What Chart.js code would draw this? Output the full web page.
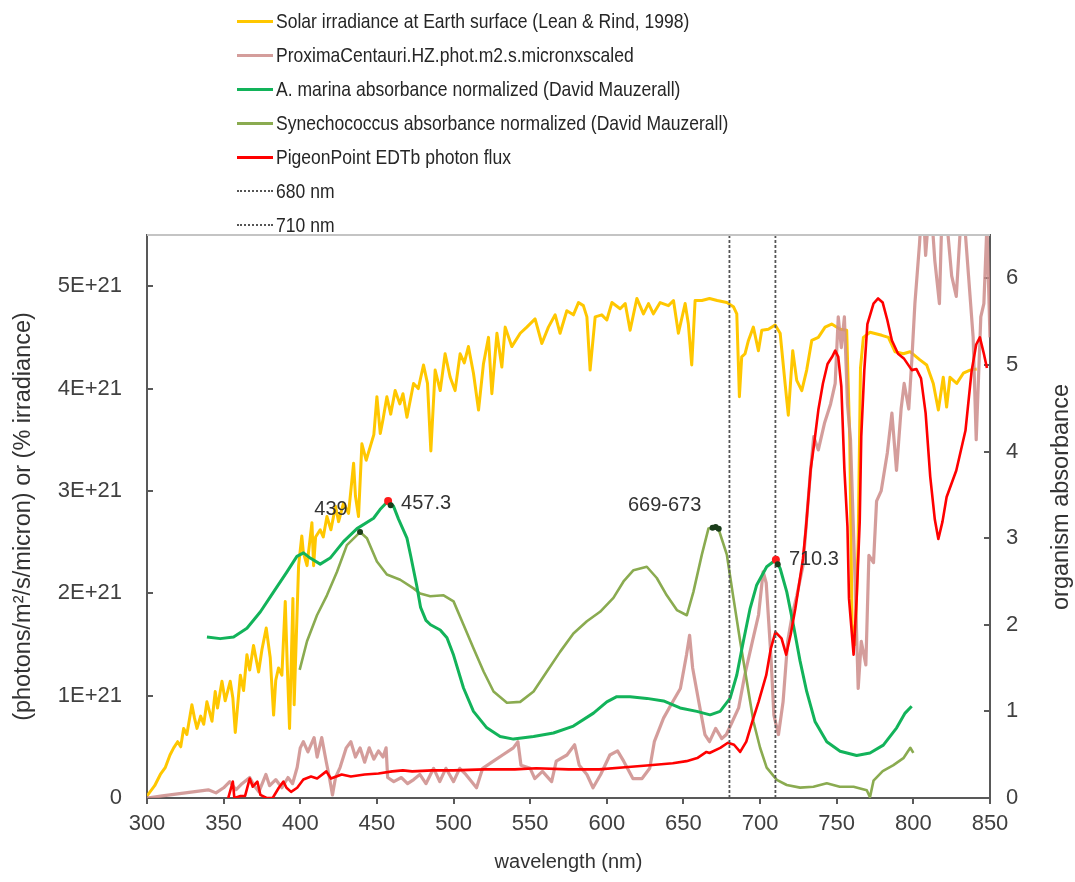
<!DOCTYPE html>
<html>
<head>
<meta charset="utf-8">
<title>Photon flux and absorbance spectra</title>
<script src="https://cdn.jsdelivr.net/npm/chart.js@4.4.0/dist/chart.umd.min.js"></script>
<style>
    body { margin: 0; background: #fff; font-family: "Liberation Sans", Arial, sans-serif; }
    #wrap { position: relative; width: 1075px; height: 882px; }
    #legend { position: absolute; left: 237px; top: 4px; }
    .legend-item { height: 34px; display: flex; align-items: center; color: #262626; white-space: nowrap; }
    .legend-line { width: 36px; height: 0; margin-right: 3px; }
    .legend-text { display: inline-block; font-size: 21px; transform: scaleX(0.835); transform-origin: left center; }
</style>
</head>
<body>
<div id="wrap">
    <canvas id="spectraChart"></canvas>
    <div id="legend"></div>
</div>
<script>
// Left axis values are in units of 1E+21 photons/m2/s/micron

// Solar irradiance at Earth surface
const solarWl = [
    300, 305, 308.7, 312, 315, 317.4, 320, 322, 323.9, 326,
    329.3, 331, 332.6, 335, 337, 339.1, 342.4, 344.5, 346, 348.9,
    351, 354.3, 356, 357.6, 360.9, 363, 365.2, 367, 369.5, 372.8,
    375, 377.8, 380.4, 382.6, 384, 385.8, 388, 390.2, 391.5, 393,
    395.2, 396, 398.9, 401, 402, 404.4, 407.6, 408.7, 410, 413,
    415, 417.4, 420, 423, 425, 428.2, 431.5, 434.8, 436, 438,
    440.2, 443, 445.6, 448, 450, 452.2, 454, 456.5, 459, 461.9,
    465, 467, 469.6, 473.9, 477, 480.4, 483, 485.2, 488, 491.3,
    494.5, 497.8, 501, 504.3, 507, 509.7, 513, 516.3, 519.5, 522.8,
    525, 528.3, 531.5, 533.7, 538, 543.5, 547.8, 553.2, 557.6, 561.9,
    566.3, 569.5, 573.9, 578.2, 581.5, 584.7, 587, 589.1, 592.4, 596.7,
    600, 603.3, 608.7, 612, 615.2, 619.6, 623.9, 627.2, 630.4, 634.8,
    640.2, 643.5, 646.7, 651.1, 653.2, 655.4, 657.6, 662, 667, 672,
    678.3, 682.6, 684.8, 686.5, 688, 690.2, 692.4, 695.6, 698.9, 701.1,
    705.4, 709.8, 713.1, 716.3, 718.4, 721.3, 723.9, 727.2, 730.4, 733.7,
    738, 742.4, 746.7, 752.2, 756.5, 758.5, 760, 762, 764, 765.5,
    767.4, 771.7, 779.4, 783.7, 788, 793.5, 797.8, 804.3, 808.7, 813,
    816.3, 819.5, 821.7, 823.9, 828.3, 832.6, 837, 841.3
];
const solarFlux = [
    0.02, 0.12, 0.23, 0.30, 0.42, 0.49, 0.55, 0.50, 0.68, 0.62,
    0.91, 0.78, 0.68, 0.80, 0.72, 0.94, 0.75, 1.04, 0.88, 1.14,
    0.95, 1.14, 0.98, 0.64, 1.20, 1.05, 1.40, 1.25, 1.49, 1.23,
    1.45, 1.66, 1.37, 0.81, 1.15, 1.27, 1.20, 1.92, 1.30, 0.68,
    1.95, 0.91, 2.27, 2.56, 2.40, 2.27, 2.69, 2.27, 2.55, 2.62,
    2.55, 2.75, 2.62, 2.85, 2.70, 2.88, 2.78, 3.27, 2.95, 2.75,
    3.46, 3.30, 3.43, 3.55, 3.92, 3.56, 3.70, 3.92, 3.75, 3.98,
    3.85, 3.95, 3.72, 4.05, 4.00, 4.23, 4.05, 3.39, 4.18, 3.98,
    4.34, 4.11, 3.98, 4.34, 4.25, 4.41, 4.15, 3.79, 4.24, 4.50,
    3.95, 4.54, 4.21, 4.60, 4.41, 4.54, 4.60, 4.68, 4.44, 4.60,
    4.72, 4.54, 4.76, 4.72, 4.84, 4.81, 4.70, 4.18, 4.70, 4.72,
    4.67, 4.84, 4.78, 4.83, 4.57, 4.88, 4.73, 4.83, 4.73, 4.84,
    4.81, 4.86, 4.54, 4.83, 4.63, 4.23, 4.86, 4.86, 4.88, 4.86,
    4.84, 4.80, 4.73, 3.92, 4.31, 4.34, 4.47, 4.60, 4.37, 4.57,
    4.58, 4.62, 4.54, 4.05, 3.74, 4.37, 4.08, 3.98, 4.18, 4.47,
    4.50, 4.60, 4.63, 4.58, 4.57, 3.50, 1.70, 1.50, 2.50, 4.20,
    4.50, 4.55, 4.52, 4.50, 4.36, 4.34, 4.36, 4.28, 4.23, 4.05,
    3.79, 4.11, 3.82, 4.11, 4.05, 4.15, 4.18, 4.19
];

// Proxima Centauri HZ photon flux (scaled)
const proxWl = [
    300, 310, 320, 330, 340, 345, 350, 354, 358, 362,
    367, 370, 373, 377.6, 380, 384, 388, 392, 395, 398,
    400, 402, 405, 409, 411, 414, 417, 419, 421, 423,
    426, 430, 433, 436, 439, 442, 445, 448, 451, 454,
    456, 457, 461, 466, 470, 474, 478, 482, 487, 491,
    495, 500, 504, 508, 515, 519, 526, 532, 539, 542,
    544, 550, 553, 558, 564, 567, 574, 579, 582, 587,
    591, 596, 602, 607, 611, 617, 623, 628, 631, 637,
    643, 648, 652, 654, 656, 660, 664, 667, 671, 675,
    678, 682, 686, 690, 695, 699, 702, 704, 707, 709,
    712, 715, 718, 721, 724, 728, 730, 733, 735, 738,
    742, 746, 749, 751, 753, 755, 757, 759, 762, 764,
    766, 769, 771, 774, 776, 779, 783, 786, 789, 792,
    794, 797, 799, 801, 804, 806, 808, 811, 814, 817,
    819, 822, 825, 828, 832, 836, 839, 841, 844, 846,
    848, 850
];
const proxFlux = [
    0.00, 0.02, 0.04, 0.06, 0.08, 0.05, 0.10, 0.16, 0.08, 0.14,
    0.20, 0.12, 0.06, 0.23, 0.12, 0.18, 0.10, 0.20, 0.14, 0.30,
    0.49, 0.55, 0.45, 0.59, 0.40, 0.59, 0.35, 0.20, 0.03, 0.20,
    0.30, 0.49, 0.55, 0.40, 0.49, 0.35, 0.49, 0.38, 0.46, 0.40,
    0.49, 0.20, 0.16, 0.20, 0.14, 0.18, 0.23, 0.14, 0.29, 0.16,
    0.29, 0.16, 0.29, 0.23, 0.10, 0.29, 0.36, 0.42, 0.49, 0.55,
    0.32, 0.29, 0.19, 0.26, 0.16, 0.36, 0.42, 0.52, 0.32, 0.23,
    0.10, 0.23, 0.42, 0.46, 0.36, 0.19, 0.19, 0.29, 0.55, 0.78,
    0.94, 1.07, 1.40, 1.59, 1.27, 0.94, 0.62, 0.55, 0.68, 0.58,
    0.62, 0.75, 0.88, 1.20, 1.53, 1.79, 2.21, 2.10, 1.40, 0.81,
    0.62, 0.94, 1.53, 1.79, 1.98, 2.27, 2.65, 3.21, 3.53, 3.40,
    3.66, 3.85, 4.05, 4.70, 4.40, 4.70, 3.85, 3.50, 2.11, 1.07,
    1.53, 1.30, 2.37, 2.30, 2.90, 3.00, 3.37, 3.76, 3.20, 3.80,
    4.05, 3.80, 4.28, 4.83, 5.41, 5.90, 5.30, 5.90, 5.25, 4.83,
    5.90, 5.60, 5.10, 4.90, 5.90, 5.10, 4.50, 3.50, 4.70, 4.83,
    5.60, 4.50
];

// PigeonPoint EDTb photon flux
const pigeonWl = [
    353, 356, 357, 361, 364, 367, 369, 372, 374, 378,
    382, 386, 389, 391, 394, 398, 402, 407, 411, 417,
    420, 427, 433, 442, 451, 460, 467, 473, 486, 500,
    520, 540, 554, 575, 595, 612, 628, 643, 652, 659,
    665, 667, 674, 679, 683, 687, 691, 695, 699, 704,
    707, 710, 714, 717, 720, 723, 728, 730, 733, 735,
    738, 741, 744, 747, 749, 751, 753, 755, 757, 758,
    761, 763, 765, 766, 768, 770, 774, 777, 780, 783,
    786, 790, 794, 799, 802, 805, 808, 811, 814, 816.3,
    819, 821.7, 828, 834, 838, 841, 843.4, 846, 848
];
const pigeonFlux = [
    0.00, 0.16, 0.00, 0.02, 0.02, 0.19, 0.11, 0.16, 0.03, 0.00,
    0.00, 0.10, 0.16, 0.10, 0.06, 0.10, 0.18, 0.21, 0.19, 0.26,
    0.19, 0.23, 0.21, 0.23, 0.24, 0.26, 0.27, 0.26, 0.27, 0.27,
    0.28, 0.28, 0.29, 0.28, 0.28, 0.30, 0.32, 0.34, 0.36, 0.39,
    0.45, 0.44, 0.49, 0.54, 0.52, 0.45, 0.55, 0.75, 0.94, 1.20,
    1.46, 1.62, 1.56, 1.40, 1.60, 1.85, 2.34, 2.65, 3.21, 3.43,
    3.79, 4.05, 4.24, 4.31, 4.37, 4.31, 4.02, 3.21, 2.65, 1.95,
    1.40, 1.95, 2.70, 3.53, 4.18, 4.63, 4.83, 4.88, 4.84, 4.67,
    4.47, 4.34, 4.29, 4.18, 4.19, 4.10, 3.76, 3.14, 2.72, 2.53,
    2.70, 2.94, 3.20, 3.59, 4.17, 4.43, 4.50, 4.34, 4.20
];

// A. marina absorbance (right axis)
const marinaWl = [
    339.1, 347.8, 356.5, 365.2, 374, 382.6, 391.3, 397.8, 402.1, 406.5,
    413, 419.5, 428.2, 437, 447.8, 452, 457.3, 460.8, 464.1, 469.6,
    472, 476, 478.5, 482, 485, 491.3, 495.7, 500, 506.5, 513,
    521.7, 530.4, 539.1, 552.2, 565.2, 578.2, 591.3, 600, 606.5, 615.2,
    626.1, 637, 647.8, 658.7, 667.4, 673.9, 680.4, 684.8, 689.1, 693.5,
    697.8, 704.3, 710.3, 713.1, 717.4, 721.7, 726.1, 730.4, 735.9, 743.5,
    752.2, 763, 771.7, 780.4, 789.1, 794.6, 798.9
];
const marinaAbs = [
    1.86, 1.84, 1.86, 1.96, 2.15, 2.38, 2.61, 2.79, 2.83, 2.77,
    2.70, 2.77, 2.96, 3.11, 3.23, 3.33, 3.43, 3.37, 3.22, 3.00,
    2.80, 2.45, 2.20, 2.05, 2.00, 1.94, 1.85, 1.65, 1.27, 1.00,
    0.81, 0.71, 0.68, 0.71, 0.75, 0.83, 0.98, 1.11, 1.17, 1.17,
    1.15, 1.12, 1.04, 1.00, 0.96, 1.00, 1.15, 1.42, 1.81, 2.19,
    2.46, 2.67, 2.75, 2.65, 2.38, 2.00, 1.58, 1.23, 0.88, 0.65,
    0.54, 0.49, 0.52, 0.61, 0.81, 0.98, 1.06
];

// Synechococcus absorbance (right axis)
const synWl = [
    399.6, 404.4, 410.9, 417.4, 423.9, 430.4, 439, 443.5, 450, 456.5,
    465.2, 473.9, 478.2, 484.8, 493.5, 500, 506.5, 513, 519.6, 526.1,
    534.8, 543.5, 552.2, 560.9, 569.6, 578.2, 587, 595.6, 604.3, 610.9,
    617.4, 626.1, 632.6, 639.1, 645.7, 652.2, 656.5, 662, 666.3, 669,
    673, 678.3, 682.6, 687, 691.3, 695.7, 700, 704.3, 710.9, 717.4,
    726.1, 734.8, 743.5, 752, 761, 769.6, 771.7, 774, 780, 787,
    793.5, 798, 800
];
const synAbs = [
    1.48, 1.81, 2.11, 2.34, 2.61, 2.92, 3.07, 3.00, 2.73, 2.58,
    2.52, 2.42, 2.36, 2.33, 2.34, 2.27, 2.00, 1.73, 1.46, 1.23,
    1.10, 1.11, 1.23, 1.46, 1.69, 1.90, 2.04, 2.15, 2.31, 2.50,
    2.63, 2.67, 2.54, 2.34, 2.17, 2.11, 2.38, 2.81, 3.11, 3.12,
    3.10, 2.81, 2.31, 1.81, 1.35, 0.88, 0.58, 0.35, 0.21, 0.15,
    0.12, 0.13, 0.17, 0.13, 0.13, 0.09, 0.01, 0.20, 0.31, 0.38,
    0.46, 0.58, 0.52
];

// Marked absorbance peaks
const peakRedWl = [457.3, 710.3];
const peakRedAbs = [3.43, 2.75];
const peakDarkWl = [439, 459, 669, 671, 673, 711.5];
const peakDarkAbs = [3.07, 3.38, 3.12, 3.13, 3.11, 2.70];
const peakLabels = ['439', '457.3', '669-673', '710.3'];
const peakLabelWl = [439, 457.3, 671, 710.3];
const peakLabelAbs = [3.07, 3.43, 3.12, 2.75];

// Reference wavelengths (dashed lines)
const refLinesNm = [680, 710];

const seriesNames = [
    'Solar irradiance at Earth surface (Lean & Rind, 1998)',
    'ProximaCentauri.HZ.phot.m2.s.micronxscaled',
    'A. marina absorbance normalized (David Mauzerall)',
    'Synechococcus absorbance normalized (David Mauzerall)',
    'PigeonPoint EDTb photon flux'
];

// Axis ticks
const xTicks = { min: 300, max: 850, step: 50 };
const fluxTicks = { min: 0, max: 5.5, step: 1 };
const absTicks = { min: 0, max: 6.5, step: 1 };

const absTitle = 'organism absorbance';

function toPoints(xs, ys) {
    return xs.map((x, i) => ({ x: x, y: ys[i] }));
}

function lineSet(label, xs, ys, color, width, axis, order) {
    return {
        label: label,
        data: toPoints(xs, ys),
        borderColor: color,
        backgroundColor: color,
        borderWidth: width,
        pointRadius: 0,
        tension: 0,
        borderJoinStyle: 'round',
        yAxisID: axis,
        order: order
    };
}

const datasets = [
    lineSet(seriesNames[0], solarWl, solarFlux, '#ffc700', 3, 'y', 4),
    lineSet(seriesNames[1], proxWl, proxFlux, 'rgba(205,140,138,0.85)', 3.2, 'y', 3),
    lineSet(seriesNames[2], marinaWl, marinaAbs, '#12b35a', 3, 'y1', 1),
    lineSet(seriesNames[3], synWl, synAbs, '#8aab50', 2.6, 'y1', 2),
    lineSet(seriesNames[4], pigeonWl, pigeonFlux, '#ff0000', 2.6, 'y', 0)
];

refLinesNm.forEach(nm => {
    datasets.push({
        label: nm + ' nm',
        data: [{ x: nm, y: absTicks.min }, { x: nm, y: absTicks.max }],
        borderColor: '#555',
        borderWidth: 1.8,
        borderDash: [3, 2],
        pointRadius: 0,
        yAxisID: 'y1',
        order: -0.5,
        dashed: true
    });
});

datasets.push({
    label: 'peaks-red',
    data: toPoints(peakRedWl, peakRedAbs),
    showLine: false,
    pointRadius: 4,
    pointBackgroundColor: '#ff1a1a',
    pointBorderWidth: 0,
    yAxisID: 'y1',
    order: -1,
    marker: true
});
datasets.push({
    label: 'peaks-dark',
    data: toPoints(peakDarkWl, peakDarkAbs),
    showLine: false,
    pointRadius: 3,
    pointBackgroundColor: '#1b3d1b',
    pointBorderWidth: 0,
    yAxisID: 'y1',
    order: -2,
    marker: true
});

// Light frame along the top of the plot, and the right axis title (reads upward)
const frameAndTitle = {
    id: 'frameAndTitle',
    afterDraw(chart) {
        const { ctx, chartArea } = chart;
        ctx.save();
        ctx.strokeStyle = '#c4c4c4';
        ctx.lineWidth = 2;
        ctx.beginPath();
        ctx.moveTo(chartArea.left, chartArea.top);
        ctx.lineTo(chartArea.right, chartArea.top);
        ctx.stroke();

        ctx.translate(1062, 497);
        ctx.rotate(-Math.PI / 2);
        ctx.font = '23.5px "Liberation Sans", Arial, sans-serif';
        ctx.fillStyle = '#333';
        ctx.textAlign = 'center';
        ctx.textBaseline = 'middle';
        ctx.fillText(absTitle, 0, 0);
        ctx.restore();
    }
};

// Peak wavelength labels
const peakText = {
    id: 'peakText',
    afterDatasetsDraw(chart) {
        const { ctx, scales } = chart;
        const offsets = [[-29, -23, 'center'], [13, 3, 'left'], [-51, -22, 'center'], [13, 0, 'left']];
        ctx.save();
        ctx.font = '20px "Liberation Sans", Arial, sans-serif';
        ctx.fillStyle = '#333';
        ctx.textBaseline = 'middle';
        peakLabels.forEach((txt, i) => {
            const x = scales.x.getPixelForValue(peakLabelWl[i]);
            const y = scales.y1.getPixelForValue(peakLabelAbs[i]);
            ctx.textAlign = offsets[i][2];
            ctx.fillText(txt, x + offsets[i][0], y + offsets[i][1]);
        });
        ctx.restore();
    }
};

const axisColor = '#595959';
const tickColor = '#404040';

const chart = new Chart(document.getElementById('spectraChart'), {
    type: 'line',
    data: { datasets: datasets },
    options: {
        responsive: true,
        maintainAspectRatio: false,
        animation: false,
        layout: { padding: { top: 235, left: 0, right: 0, bottom: 0 } },
        plugins: {
            legend: { display: false },
            tooltip: { enabled: false }
        },
        scales: {
            x: {
                type: 'linear',
                min: xTicks.min,
                max: xTicks.max,
                ticks: { stepSize: xTicks.step, color: tickColor, font: { size: 22 }, padding: 7 },
                grid: { drawOnChartArea: false, tickLength: 6, color: axisColor, lineWidth: 2 },
                border: { color: axisColor, width: 2 },
                title: { display: true, text: 'wavelength (nm)', color: '#333', font: { size: 20 }, padding: { top: 0, bottom: 8 } },
                afterFit(scale) { scale.height = 84; }
            },
            y: {
                position: 'left',
                min: fluxTicks.min,
                max: fluxTicks.max,
                ticks: {
                    stepSize: fluxTicks.step,
                    includeBounds: false,
                    color: tickColor,
                    font: { size: 22 },
                    padding: 31,
                    callback: function(value) {
                        const n = Math.round(value);
                        return n === 0 ? '0' : n + 'E+21';
                    }
                },
                grid: { drawOnChartArea: false, tickLength: -6, color: axisColor, lineWidth: 2 },
                border: { color: axisColor, width: 2 },
                title: { display: true, text: '(photons/m²/s/micron) or (% irradiance)', color: '#333', font: { size: 23.5 }, padding: { top: 9.5, bottom: 0 } },
                afterFit(scale) { scale.width = 147; }
            },
            y1: {
                position: 'right',
                min: absTicks.min,
                max: absTicks.max,
                ticks: { stepSize: absTicks.step, includeBounds: false, color: tickColor, font: { size: 22 }, padding: 22 },
                grid: { drawOnChartArea: false, tickLength: -6, color: axisColor, lineWidth: 2 },
                border: { color: axisColor, width: 2 },
                afterFit(scale) { scale.width = 85; }
            }
        }
    },
    plugins: [frameAndTitle, peakText]
});

// Build the vertical legend
function buildLegend() {
    const html = chart.data.datasets
        .filter(ds => !ds.marker)
        .map(ds => {
            const line = ds.dashed
                ? 'border-top: 2px dotted #555;'
                : `border-top: 3px solid ${ds.borderColor};`;
            return `
        <div class="legend-item">
            <span class="legend-line" style="${line}"></span>
            <span class="legend-text">${ds.label.replace('&', '&amp;')}</span>
        </div>`;
        }).join('');
    document.getElementById('legend').innerHTML = html;
}

buildLegend();
</script>
</body>
</html>
